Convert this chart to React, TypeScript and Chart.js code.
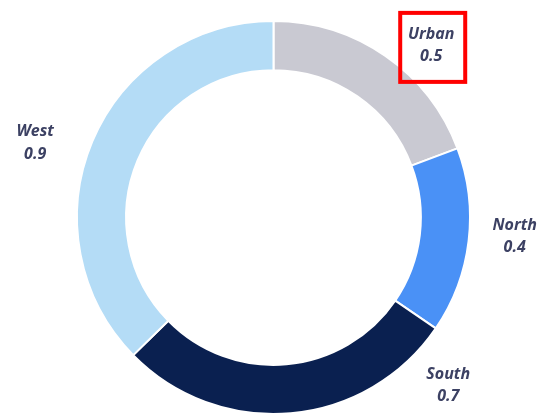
import React, { useEffect, useRef } from "react";
import { Chart, registerables } from "chart.js";

Chart.register(...registerables);

const categories = ["Urban", "North", "South", "West"];
const values = [0.48, 0.38, 0.7, 0.93];
const displayValues = ["0.5", "0.4", "0.7", "0.9"];
const colors = ["#c9c9d2", "#4a91f6", "#0a2050", "#b4dcf6"];

// label layout (angle in degrees clockwise from top, distance as a fraction of the outer radius)
const labelAngles = [42.5, 94.4, 133.8, 287.4];
const labelDistances = [1.188, 1.231, 1.232, 1.271];
const highlightedIndex = 0;

const labelPlugin = {
  id: "outerLabels",
  afterDraw(chart: any) {
    const meta = chart.getDatasetMeta(0);
    const arc0 = meta.data[0];
    if (!arc0) return;
    const cx = arc0.x;
    const cy = arc0.y;
    const r = arc0.outerRadius;
    const ctx = chart.ctx;
    ctx.save();
    ctx.font = "italic bold 16px 'Open Sans'";
    ctx.fillStyle = "#3c4163";
    ctx.textAlign = "center";
    ctx.textBaseline = "middle";
    categories.forEach((cat, i) => {
      const a = (labelAngles[i] * Math.PI) / 180;
      const d = r * labelDistances[i];
      const x = cx + d * Math.sin(a);
      const y = cy - d * Math.cos(a);
      ctx.fillText(cat, x, y - 11);
      ctx.fillText(displayValues[i], x, y + 11.5);
      if (i === highlightedIndex) {
        ctx.strokeStyle = "#ff0000";
        ctx.lineWidth = 4;
        ctx.strokeRect(x - 31, y - 32.5, 65, 69);
      }
    });
    ctx.restore();
  },
};

export default function App() {
  const ref = useRef<HTMLCanvasElement>(null);
  useEffect(() => {
    document.body.style.margin = "0";
    document.body.style.overflow = "hidden";
    document.body.style.background = "#ffffff";
    if (!ref.current) return;
    const chart = new Chart(ref.current, {
      type: "doughnut",
      data: {
        labels: categories,
        datasets: [
          {
            data: values,
            backgroundColor: colors,
            borderColor: "#ffffff",
            borderWidth: 2,
          },
        ],
      },
      options: {
        animation: false,
        responsive: false,
        cutout: "75%",
        layout: { padding: { top: 20, left: 8, right: 0, bottom: 0 } },
        plugins: {
          legend: { display: false },
          tooltip: { enabled: false },
        },
      },
      plugins: [labelPlugin],
    });
    return () => chart.destroy();
  }, []);
  return (
    <div style={{ width: 539, height: 414, overflow: "hidden", position: "relative" }}>
      <canvas ref={ref} width={539} height={415} style={{ display: "block" }} />
    </div>
  );
}
